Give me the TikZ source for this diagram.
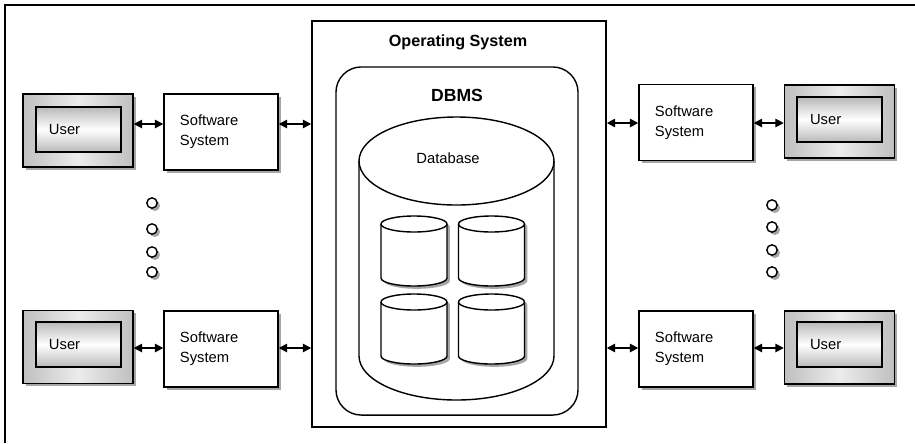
\documentclass[tikz,border=0pt]{standalone}
\usepackage{fontspec}
\setmainfont{Liberation Sans}
\usetikzlibrary{arrows.meta,shadows}

\tikzset{
  shadowed/.style={drop shadow={shadow xshift=2pt,shadow yshift=-2pt,fill=black!35,opacity=1}},
  userout/.style={draw,line width=1pt,minimum width=2.75cm,minimum height=1.825cm,
    left color=gray!50,right color=gray!50,middle color=gray!15,shadowed},
  userin/.style={draw,line width=1pt,minimum width=2.125cm,minimum height=1.125cm,
    inner xsep=0.325cm,text width=1.475cm,align=left,
    top color=gray!55,bottom color=gray!55,middle color=white},
  swbox/.style={draw,line width=1pt,fill=white,minimum width=2.85cm,minimum height=1.9cm,
    inner xsep=0.4cm,text width=2.05cm,align=left,shadowed},
  ring/.style={circle,draw,line width=1pt,fill=white,minimum size=0.26cm,inner sep=0pt,shadowed},
  biarrow/.style={line width=1.2pt,{Triangle[length=6pt,width=6pt]}-{Triangle[length=6pt,width=6pt]}},
}

% cylinder: centre x, top y, bottom y, x radius, y radius, extra style
\newcommand{\tank}[6]{%
  \draw[line width=1pt,fill=white,#6] ({#1-#4},{#2+#5}) -- ({#1-#4},{#3-#5})
    arc (180:0:#4 and #5) -- ({#1+#4},{#2+#5}) arc (0:-180:#4 and #5) -- cycle;
  \draw[line width=1pt] ({#1-#4},{#2+#5}) arc (180:0:#4 and #5);
}

\begin{document}
\begin{tikzpicture}[x=0.025cm,y=-0.025cm,font=\fontsize{10.5}{14}\selectfont]
\useasboundingbox (0,0) rectangle (915,443);
\draw[line width=1.5pt] (5,443) -- (5,5) -- (915,5);

% operating system, dbms, database
\node (os) at (459,224) [draw,line width=1pt,minimum width=7.35cm,minimum height=10.15cm]{};
\node (osTitle) at (458,42) [font=\bfseries\fontsize{11.5}{14}\selectfont]{Operating System};
\node (dbms) at (457,241) [draw,line width=1pt,rounded corners=18pt,minimum width=6.05cm,minimum height=8.7cm]{};
\node (dbmsTitle) at (457,95) [font=\bfseries\fontsize{12.5}{14}\selectfont]{DBMS};
\tank{456.5}{117}{400}{97.5}{44}{}
\node (dbLabel) at (448,158) {Database};

\tank{414}{216}{286}{33}{8}{shadowed}
\tank{491.5}{216}{286}{33}{8}{shadowed}
\tank{414}{294}{364}{33}{8}{shadowed}
\tank{491.5}{294}{364}{33}{8}{shadowed}

% left side
\node (userL1) at (78,130.5) [userout]{};
\node (uL1) at (78.5,129.5) [userin]{User};
\node (swL1) at (221,132) [swbox]{Software\\System};
\node (userL2) at (78,347) [userout]{};
\node (uL2) at (78.5,344.5) [userin]{User};
\node (swL2) at (221,349) [swbox]{Software\\System};

% right side
\node (swR1) at (696,122.5) [swbox]{Software\\System};
\node (userR1) at (839.5,121.5) [userout]{};
\node (uR1) at (839.5,119.5) [userin]{User};
\node (swR2) at (696,349) [swbox]{Software\\System};
\node (userR2) at (839.5,347.5) [userout]{};
\node (uR2) at (839.5,344.5) [userin]{User};

% dots
\node (dL1) at (152,203) [ring]{};
\node (dL2) at (152,229) [ring]{};
\node (dL3) at (152,252) [ring]{};
\node (dL4) at (152,272) [ring]{};
\node (dR1) at (772,205) [ring]{};
\node (dR2) at (772,227) [ring]{};
\node (dR3) at (772,250) [ring]{};
\node (dR4) at (772,272) [ring]{};

% arrows
\coordinate (rowLA) at (0,124);
\coordinate (rowLB) at (0,348);
\coordinate (rowRA) at (0,123);
\coordinate (rowRB) at (0,348);
\draw[biarrow] (userL1.east |- rowLA) -- (swL1.west |- rowLA);
\draw[biarrow] (swL1.east |- rowLA) -- (os.west |- rowLA);
\draw[biarrow] (userL2.east |- rowLB) -- (swL2.west |- rowLB);
\draw[biarrow] (swL2.east |- rowLB) -- (os.west |- rowLB);
\draw[biarrow] (os.east |- rowRA) -- (swR1.west |- rowRA);
\draw[biarrow] (swR1.east |- rowRA) -- (userR1.west |- rowRA);
\draw[biarrow] (os.east |- rowRB) -- (swR2.west |- rowRB);
\draw[biarrow] (swR2.east |- rowRB) -- (userR2.west |- rowRB);
\end{tikzpicture}
\end{document}
